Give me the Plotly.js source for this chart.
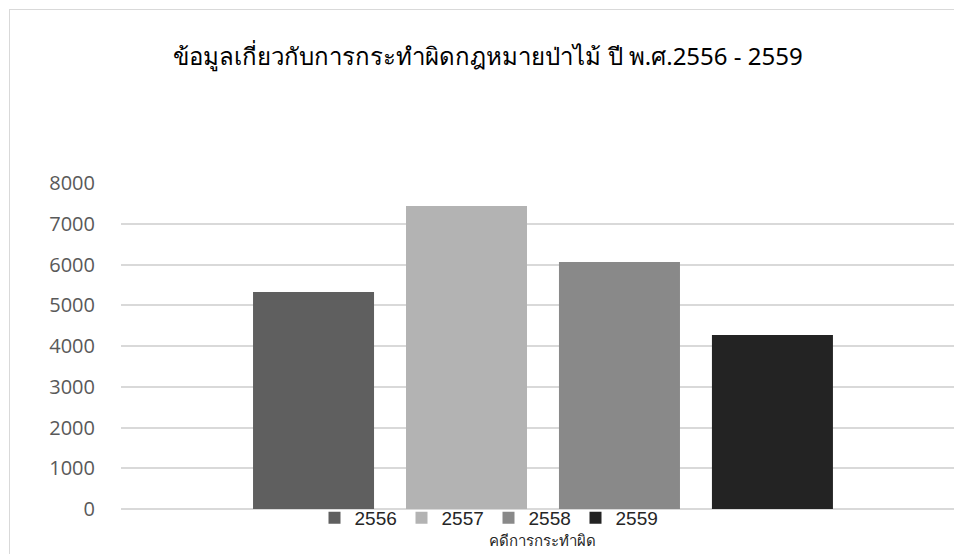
<!DOCTYPE html>
<html>
<head>
<meta charset="utf-8">
<script src="https://cdn.plot.ly/plotly-3.0.1.min.js"></script>
<style>
  html, body { margin: 0; padding: 0; background: #ffffff; overflow: hidden; }
  #wrap { position: relative; width: 954px; height: 554px; overflow: hidden; }
  #chart { position: absolute; left: 0; top: 0; width: 954px; height: 554px; }
  #frame { position: absolute; left: 9px; top: 9px; width: 960px; height: 560px;
           border: 1px solid #d9d9d9; pointer-events: none; }
</style>
</head>
<body>
<div id="wrap">
  <div id="chart"></div>
  <div id="frame"></div>
</div>
<script>
const titleText = "ข้อมูลเกี่ยวกับการกระทำผิดกฎหมายป่าไม้ ปี พ.ศ.2556 - 2559";
const category = ["คดีการกระทำผิด"];
const years = ["2556", "2557", "2558", "2559"];
const cases = [5325, 7436, 6061, 4270];
const barColors = ["#5f5f5f", "#b3b3b3", "#898989", "#232323"];
const yTicks = [0, 1000, 2000, 3000, 4000, 5000, 6000, 7000, 8000];

const traces = years.map((yr, i) => ({
  type: "bar",
  name: yr,
  x: category,
  y: [cases[i]],
  marker: { color: barColors[i] },
  hoverinfo: "name+y"
}));

const layout = {
  width: 954,
  height: 554,
  paper_bgcolor: "#ffffff",
  plot_bgcolor: "#ffffff",
  margin: { l: 121, r: 0, t: 183, b: 45, pad: 0 },
  title: {
    text: titleText,
    font: { family: "Noto Sans, DejaVu Sans, sans-serif", size: 24, color: "#000000", weight: 400 },
    x: 488 / 954, xref: "container", xanchor: "center",
    y: 1 - 57 / 554, yref: "container", yanchor: "middle"
  },
  barmode: "group",
  bargap: 0.275,
  bargroupgap: 0.209,
  showlegend: true,
  legend: {
    orientation: "h",
    x: 0.2323, xanchor: "left",
    y: -0.0276, yanchor: "middle",
    font: { family: "Liberation Sans, Arial, sans-serif", size: 19, color: "#262626" },
    bgcolor: "rgba(0,0,0,0)",
    entrywidth: 42,
    entrywidthmode: "pixels",
    traceorder: "normal",
    itemclick: false
  },
  xaxis: {
    type: "category",
    range: [-0.5, 0.487],
    showgrid: false,
    zeroline: false,
    showline: false,
    ticks: "",
    ticklabelstandoff: 21,
    tickfont: { family: "Noto Sans, DejaVu Sans, sans-serif", size: 15, color: "#262626" },
    fixedrange: true
  },
  yaxis: {
    range: [0, 8000],
    tickvals: yTicks,
    ticktext: yTicks.map(String),
    showgrid: true,
    gridcolor: "#d9d9d9",
    gridwidth: 1.5,
    zeroline: true,
    zerolinecolor: "#d9d9d9",
    zerolinewidth: 1.5,
    showline: false,
    ticks: "",
    ticklabelstandoff: 25,
    tickfont: { family: "Open Sans, Liberation Sans, sans-serif", size: 20, color: "#595959" },
    fixedrange: true
  }
};

Plotly.newPlot("chart", traces, layout, { displayModeBar: false });
</script>
</body>
</html>
